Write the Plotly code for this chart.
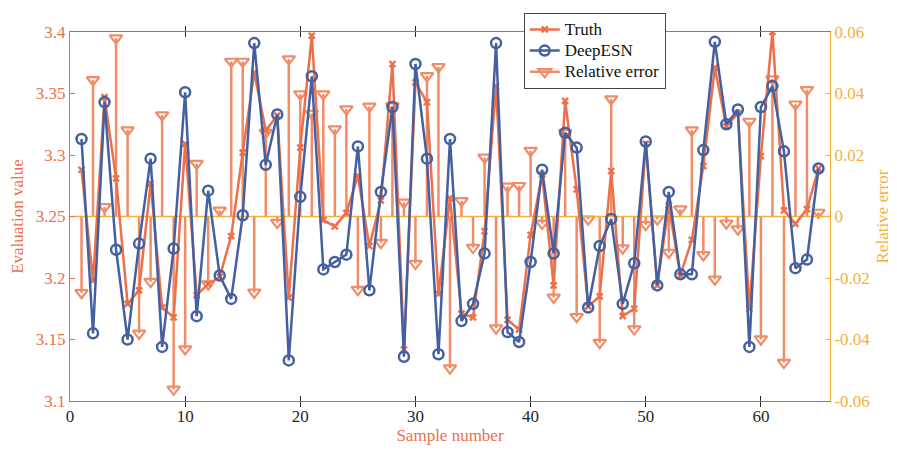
import plotly.graph_objects as go

samples = list(range(1, 66))
truth = [3.288, 3.198, 3.347, 3.281, 3.179, 3.190, 3.277, 3.176, 3.168, 3.309,
         3.186, 3.195, 3.201, 3.234, 3.302, 3.367, 3.320, 3.332, 3.184, 3.306,
         3.397, 3.247, 3.242, 3.253, 3.283, 3.226, 3.263, 3.374, 3.142, 3.359,
         3.343, 3.187, 3.265, 3.171, 3.168, 3.238, 3.356, 3.166, 3.158, 3.235,
         3.284, 3.194, 3.344, 3.272, 3.177, 3.185, 3.287, 3.169, 3.175, 3.309,
         3.194, 3.259, 3.202, 3.231, 3.291, 3.371, 3.323, 3.334, 3.175, 3.299,
         3.400, 3.255, 3.244, 3.256, 3.289]
deepesn = [3.313, 3.155, 3.343, 3.223, 3.150, 3.228, 3.297, 3.144, 3.224, 3.351,
           3.169, 3.271, 3.202, 3.183, 3.251, 3.391, 3.292, 3.333, 3.133, 3.266,
           3.364, 3.207, 3.213, 3.219, 3.307, 3.190, 3.270, 3.339, 3.136, 3.374,
           3.297, 3.138, 3.313, 3.165, 3.179, 3.220, 3.391, 3.156, 3.148, 3.213,
           3.288, 3.220, 3.318, 3.306, 3.176, 3.226, 3.248, 3.179, 3.212, 3.311,
           3.194, 3.270, 3.203, 3.203, 3.304, 3.392, 3.325, 3.337, 3.144, 3.339,
           3.356, 3.303, 3.208, 3.215, 3.289]
rel_error = [-0.0248, 0.0444, 0.0031, 0.0580, 0.0281, -0.0380, -0.0212, 0.0330, -0.0562, -0.0431,
             0.0172, -0.0220, 0.0020, 0.0504, 0.0504, -0.0247, 0.0273, -0.0020, 0.0512, 0.0398,
             0.0335, 0.0398, 0.0284, 0.0349, -0.0238, 0.0358, -0.0085, 0.0360, 0.0046, -0.0153,
             0.0457, 0.0487, -0.0493, 0.0051, -0.0101, 0.0192, -0.0363, 0.0098, 0.0100, 0.0214,
             -0.0023, -0.0263, 0.0273, -0.0326, -0.0009, -0.0410, 0.0382, -0.0103, -0.0366, -0.0027,
             -0.0009, -0.0117, 0.0024, 0.0281, -0.0125, -0.0204, -0.0022, -0.0041, 0.0309, -0.0399,
             0.0447, -0.0475, 0.0365, 0.0412, 0.0013]

x_ticks = [0, 10, 20, 30, 40, 50, 60]
left_ticks = [3.1, 3.15, 3.2, 3.25, 3.3, 3.35, 3.4]
left_labels = ["3.1", "3.15", "3.2", "3.25", "3.3", "3.35", "3.4"]
right_ticks = [-0.06, -0.04, -0.02, 0, 0.02, 0.04, 0.06]
right_labels = ["-0.06", "-0.04", "-0.02", "0", "0.02", "0.04", "0.06"]
x_range = [0, 66]

C_TRUTH = "#EC7049"
C_DEEP = "#4560A0"
C_REL = "#F08C67"
C_YEL = "#F6B03A"
FONT = "Liberation Serif"


def leg(name):
    return "<span style='font-size:17px'>%s</span>" % name


# stems
stem_x, stem_y = [], []
for s, r in zip(samples, rel_error):
    stem_x += [s, s, None]
    stem_y += [0, r, None]

fig = go.Figure()
fig.add_trace(go.Scatter(x=stem_x, y=stem_y, mode="lines", yaxis="y",
                         line=dict(color=C_REL, width=2.5), showlegend=False, hoverinfo="skip"))
fig.add_trace(go.Scatter(x=samples, y=rel_error, mode="markers", yaxis="y",
                         marker=dict(symbol="triangle-down-open", size=11, color=C_REL,
                                     line=dict(width=2.2, color=C_REL)),
                         showlegend=False))
fig.add_trace(go.Scatter(x=x_range, y=[0, 0], mode="lines", yaxis="y",
                         line=dict(color=C_YEL, width=1.5), showlegend=False, hoverinfo="skip"))

fig.add_trace(go.Scatter(x=samples, y=truth, mode="lines+markers", name=leg("Truth"), yaxis="y2",
                         line=dict(color=C_TRUTH, width=2.5),
                         marker=dict(symbol="x-thin", size=6, color=C_TRUTH,
                                     line=dict(width=2.4, color=C_TRUTH))))
fig.add_trace(go.Scatter(x=samples, y=deepesn, mode="lines+markers", name=leg("DeepESN"), yaxis="y2",
                         line=dict(color=C_DEEP, width=2.5),
                         marker=dict(symbol="circle-open", size=10, color=C_DEEP,
                                     line=dict(width=2.5, color=C_DEEP))))
# legend entry for stems
fig.add_trace(go.Scatter(x=[None], y=[None], mode="lines+markers", name=leg("Relative error"), yaxis="y2",
                         line=dict(color=C_REL, width=2.5),
                         marker=dict(symbol="triangle-down-open", size=11, color=C_REL,
                                     line=dict(width=2.2, color=C_REL))))

fig.update_layout(
    width=889, height=449,
    margin=dict(l=62, r=67, t=24, b=56, autoexpand=False),
    paper_bgcolor="white", plot_bgcolor="white",
    font=dict(family=FONT, size=17, color="#262626"),
    xaxis=dict(range=x_range, tickvals=x_ticks, ticktext=[str(v) for v in x_ticks],
               ticks="inside", ticklen=5,
               tickcolor="#262626", showline=True, linecolor="#808080", linewidth=1,
               mirror="allticks", showgrid=False, zeroline=False,
               tickfont=dict(family=FONT, size=17, color="#262626"),
               title=dict(text="Sample number", font=dict(family=FONT, size=17, color=C_TRUTH),
                          standoff=2)),
    yaxis=dict(range=[-0.06, 0.06], tickvals=right_ticks, ticktext=right_labels, side="right",
               ticks="inside", ticklen=5, tickcolor=C_YEL, showline=True, linecolor=C_YEL,
               linewidth=1, showgrid=False, zeroline=False,
               tickfont=dict(family=FONT, size=17, color=C_YEL),
               title=dict(text="Relative error", font=dict(family=FONT, size=17, color=C_YEL),
                          standoff=6)),
    yaxis2=dict(range=[3.1, 3.4], tickvals=left_ticks, ticktext=left_labels, side="left",
                overlaying="y", ticks="inside", ticklen=5, tickcolor=C_TRUTH, showline=True,
                linecolor=C_TRUTH, linewidth=1, showgrid=False, zeroline=False,
                tickfont=dict(family=FONT, size=17, color=C_TRUTH),
                title=dict(text="Evaluation value", font=dict(family=FONT, size=17, color=C_TRUTH),
                           standoff=10)),
    legend=dict(x=0.597, y=1.052, xanchor="left", yanchor="top", bgcolor="white",
                bordercolor="#444444", borderwidth=1,
                font=dict(family=FONT, size=14, color="#111111"),
                tracegroupgap=0, itemwidth=30),
    showlegend=True,
)

fig.write_html("out.html")
